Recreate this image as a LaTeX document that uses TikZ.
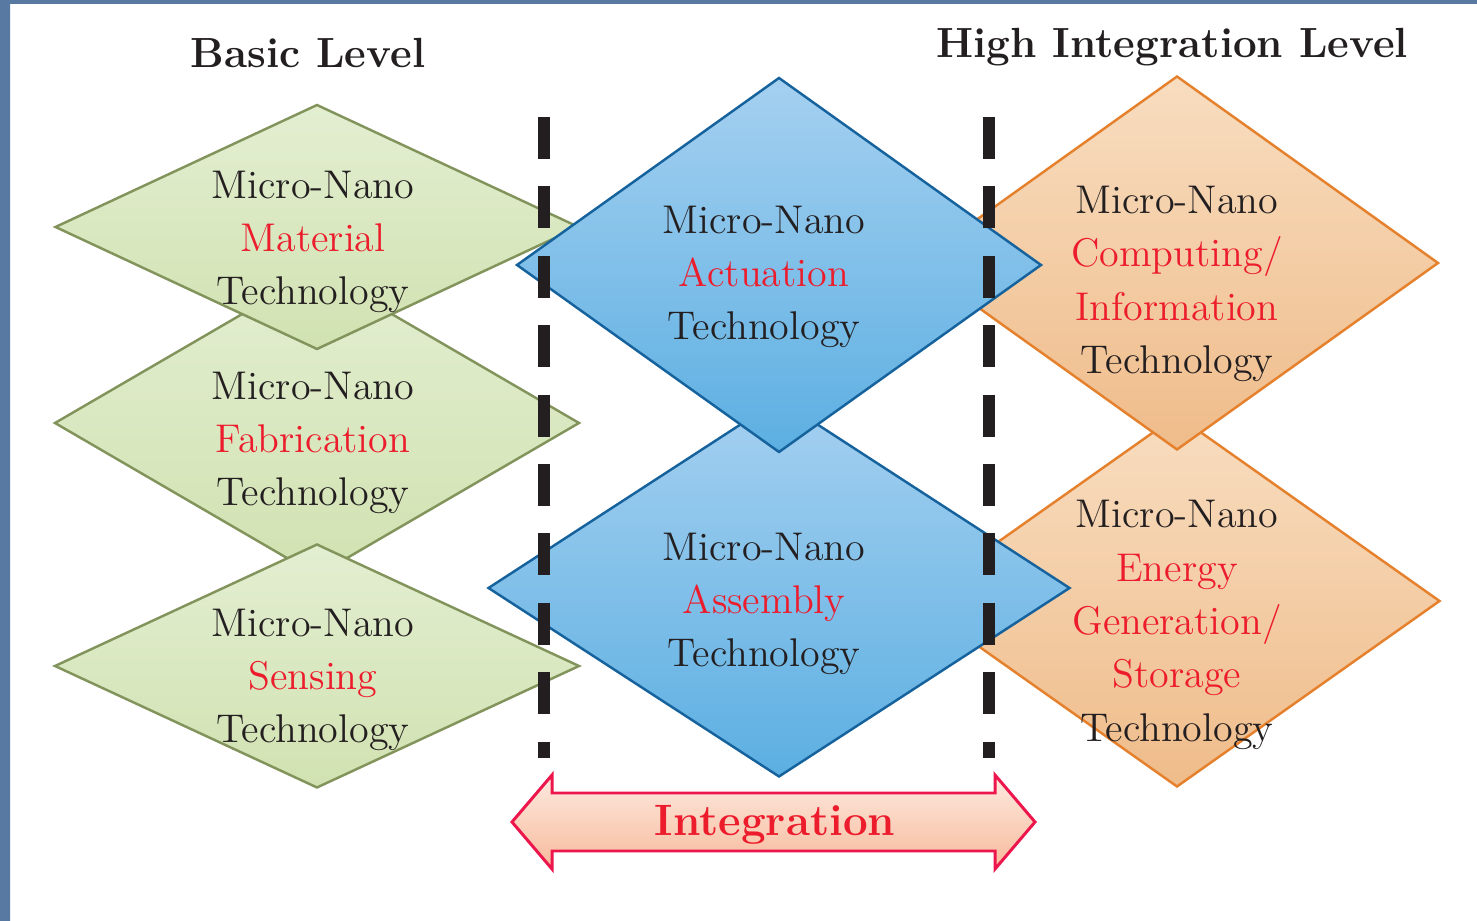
\documentclass[tikz,border=0pt]{standalone}
\usepackage{tikz}
\usetikzlibrary{shapes.geometric}
\usetikzlibrary{calc}
\definecolor{framebar}{RGB}{88,122,162}
\definecolor{darktext}{RGB}{35,31,32}
\definecolor{fieldred}{RGB}{236,28,44}
\definecolor{basicline}{RGB}{130,148,92}
\definecolor{basictop}{RGB}{227,238,209}
\definecolor{basicbot}{RGB}{209,226,177}
\definecolor{midline}{RGB}{22,98,156}
\definecolor{midtop}{RGB}{165,208,240}
\definecolor{midbot}{RGB}{92,175,226}
\definecolor{highline}{RGB}{229,128,45}
\definecolor{hightop}{RGB}{248,221,192}
\definecolor{highbot}{RGB}{239,188,138}
\definecolor{integred}{RGB}{236,22,76}
\definecolor{integtop}{RGB}{253,234,224}
\definecolor{integbot}{RGB}{247,186,155}
\newcommand{\techfield}[1]{\textcolor{fieldred}{#1}}
\tikzset{
    techdia/.style = {diamond, draw, inner sep=0pt, line width=0.7pt},
    basicdia/.style = {techdia, draw=basicline, top color=basictop, bottom color=basicbot},
    middia/.style = {techdia, draw=midline, top color=midtop, bottom color=midbot},
    highdia/.style = {techdia, draw=highline, top color=hightop, bottom color=highbot},
    techtext/.style = {align=center, inner sep=0pt, text=darktext, font=\fontsize{11.4}{15.2}\selectfont},
    levelhead/.style = {anchor=base, inner sep=0pt, text=darktext, font=\fontsize{12}{14}\selectfont\bfseries},
    boundary/.style = {draw=darktext, line width=3.4pt, dash pattern=on 4.2mm off 2.74mm},
    integarrow/.style = {draw=integred, line width=0.85pt, top color=integtop, bottom color=integbot},
    integtext/.style = {anchor=base, inner sep=0pt, text=fieldred, font=\fontsize{12.5}{14}\selectfont\bfseries}}

\begin{document}
\begin{tikzpicture}[x=0.1mm,y=-0.1mm]
    \useasboundingbox (0,0) rectangle (1477,921);
    \fill[framebar] (0,0) rectangle (10,921) (0,0) rectangle (1477,4);

    \node[levelhead] (basichead) at (308,68) {Basic Level};
    \node[levelhead] (highhead) at (1172,58) {High Integration Level};

    % basic level
    \node[basicdia, minimum width=5.25cm, minimum height=3.06cm] (fabrication) at (317,423) {};
    \node[basicdia, minimum width=5.24cm, minimum height=2.45cm] (material) at (317,227) {};
    \node[basicdia, minimum width=5.25cm, minimum height=2.44cm] (sensing) at (317,666) {};

    % high integration level
    \node[highdia, minimum width=5.26cm, minimum height=3.72cm] (energy) at (1177,601) {};
    \node[highdia, minimum width=5.23cm, minimum height=3.74cm] (computing) at (1177,263) {};

    % integration
    \node[middia, minimum width=5.82cm, minimum height=3.78cm] (assembly) at (779,588) {};
    \node[middia, minimum width=5.25cm, minimum height=3.75cm] (actuation) at (779,265) {};

    \node[techtext] (materialtext) at ($(material)+(-4,15)$) {Micro-Nano\\\techfield{Material}\\Technology};
    \node[techtext] (fabricationtext) at ($(fabrication)+(-4,20)$) {Micro-Nano\\\techfield{Fabrication}\\Technology};
    \node[techtext] (sensingtext) at ($(sensing)+(-4,14)$) {Micro-Nano\\\techfield{Sensing}\\Technology};
    \node[techtext] (actuationtext) at ($(actuation)+(-15,12)$) {Micro-Nano\\\techfield{Actuation}\\Technology};
    \node[techtext] (assemblytext) at ($(assembly)+(-15,16)$) {Micro-Nano\\\techfield{Assembly}\\Technology};
    \node[techtext] (computingtext) at ($(computing)+(0,21)$) {Micro-Nano\\\techfield{Computing/}\\\techfield{Information}\\Technology};
    \node[techtext] (energytext) at ($(energy)+(0,24)$) {Micro-Nano\\\techfield{Energy}\\\techfield{Generation/}\\\techfield{Storage}\\Technology};

    \coordinate (leftsep top) at (544,117);
    \coordinate (leftsep bottom) at (544,758);
    \coordinate (rightsep top) at (989,117);
    \coordinate (rightsep bottom) at (989,758);
    \draw[boundary] (leftsep top) -- (leftsep bottom);
    \draw[boundary] (rightsep top) -- (rightsep bottom);

    \draw[integarrow] (512,822) -- (552,775) -- (552,793) -- (995,793) -- (995,775) -- (1035,822)
        -- (995,869) -- (995,851) -- (552,851) -- (552,869) -- cycle;
    \node[integtext] (integ) at (775,835) {Integration};
\end{tikzpicture}
\end{document}
